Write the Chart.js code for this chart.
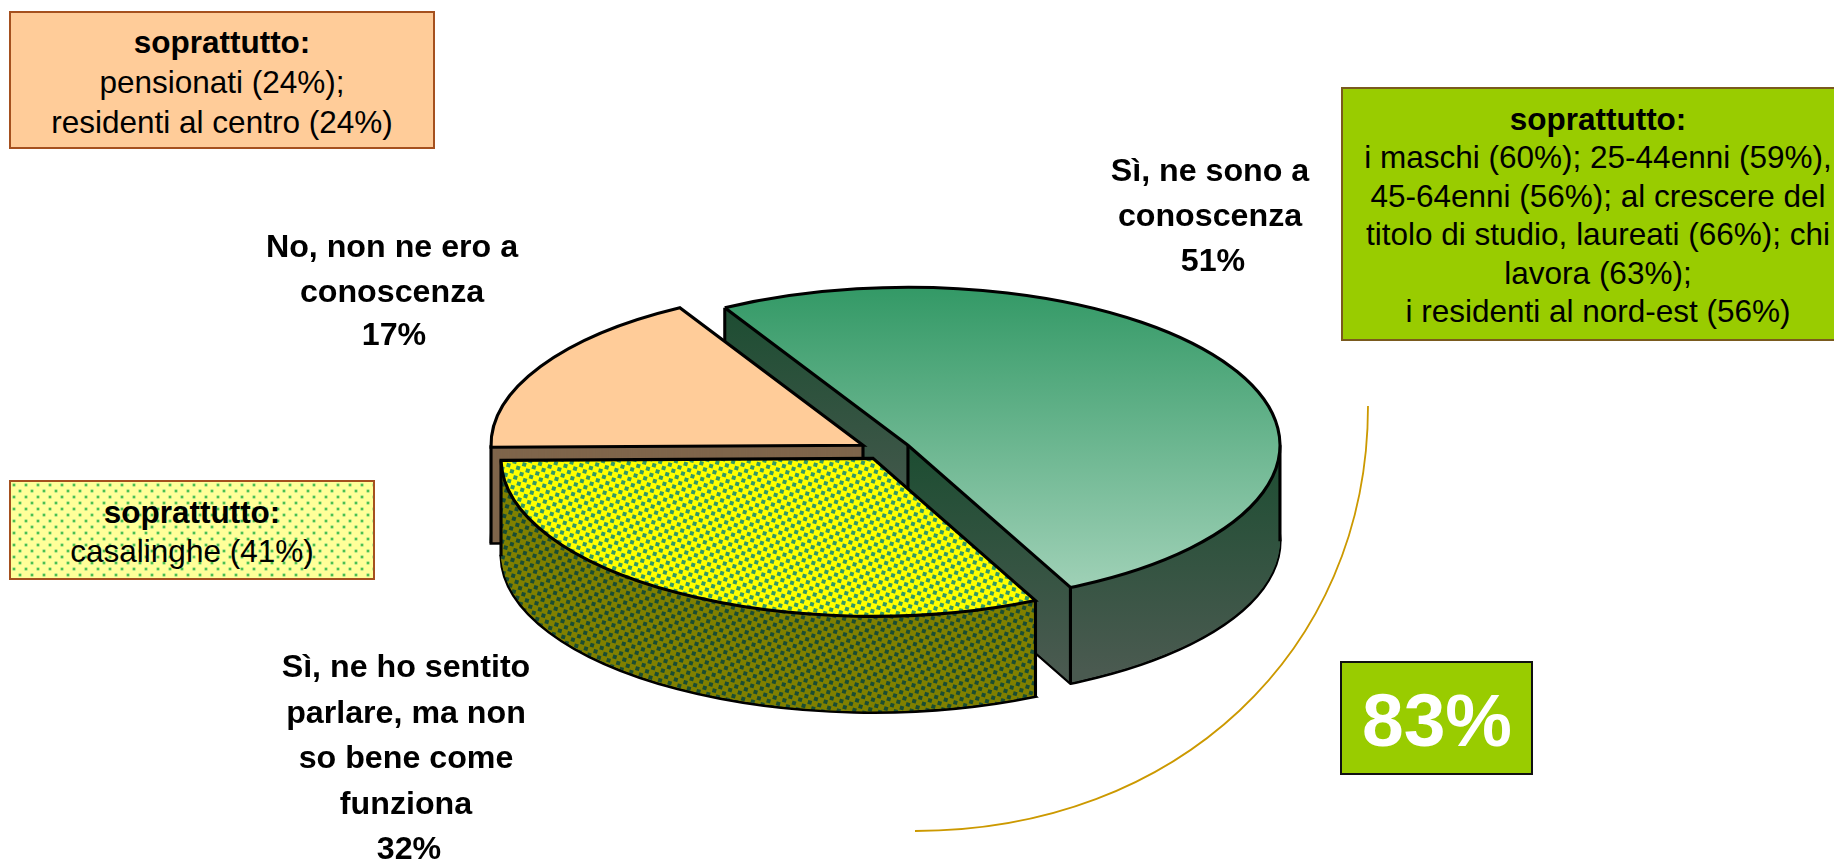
<!DOCTYPE html>
<html lang="it">
<head>
<meta charset="utf-8">
<title>Conoscenza</title>
<script src="https://cdn.jsdelivr.net/npm/chart.js@4"></script>
<style>
html,body{margin:0;padding:0;background:#fff;width:1834px;height:859px;overflow:hidden}
#wrap{position:relative;width:1834px;height:859px;overflow:hidden;font-family:"Liberation Sans",Arial,sans-serif;color:#000}
canvas{position:absolute;left:0;top:0}
.box{position:absolute;box-sizing:border-box;border:2px solid #A5501E}
.ln{position:absolute;white-space:nowrap;transform:translate(-50%,-50%);line-height:1}
.b{font-weight:700}
</style>
</head>
<body>
<div id="wrap"><canvas id="c" width="1834" height="859"></canvas></div>
<script>
// ---------- data ----------
const categories = ["Sì, ne sono a conoscenza", "Sì, ne ho sentito parlare, ma non so bene come funziona", "No, non ne ero a conoscenza"];
const values = [51, 32, 17];
const sliceColors = ["#66B28C", "#FFFF00", "#FFCC99"];
const explode = [26.5, 21.9, 24.8];
const drawOrder = [0, 2, 1];
const labelLines = [
  ["Sì, ne sono a", "conoscenza"],
  ["Sì, ne ho sentito", "parlare, ma non", "so bene come", "funziona"],
  ["No, non ne ero a", "conoscenza"]
];
const boxHead = "soprattutto:";
const noteGreen = ["i maschi (60%); 25-44enni (59%),", "45-64enni (56%); al crescere del", "titolo di studio, laureati (66%); chi", "lavora (63%);", "i residenti al nord-est (56%)"];
const notePeach = ["pensionati (24%);", "residenti al centro (24%)"];
const noteYellow = ["casalinghe (41%)"];
const totalLabel = "83%";

// ---------- text ----------
const wrap = document.getElementById('wrap');
function box(x, y, w, h, css){
  const d = document.createElement('div'); d.className = 'box';
  d.style.cssText = `left:${x}px;top:${y}px;width:${w}px;height:${h}px;${css||''}`;
  wrap.appendChild(d);
}
function line(txt, x, y, size, bold, color){
  const d = document.createElement('div'); d.className = 'ln' + (bold ? ' b' : '');
  d.textContent = txt;
  d.style.cssText = `left:${x}px;top:${y}px;font-size:${size}px;${color ? 'color:' + color : ''}`;
  wrap.appendChild(d);
}
function stack(lines, x, y0, step, size, bold){
  lines.forEach((t, i) => line(t, x, y0 + i * step, size, bold));
}
const NOTE = 31.5, LABEL = 32.2;
box(9, 11, 426, 138, 'background:#FFCC99');
line(boxHead, 222, 43, NOTE, true); stack(notePeach, 222, 83, 39.5, NOTE, false);

box(1341, 87, 520, 254, 'background:#99CC00;border-color:#7A5A1E');
line(boxHead, 1598, 120, NOTE, true); stack(noteGreen, 1598, 158, 38.5, NOTE, false);

const halo = 'radial-gradient(circle at 3px 3px,#4CC04C 0.8px,#BDE88C 1.6px,transparent 2.5px)';
box(9, 480, 366, 100, `background-color:#FFFF99;background-image:${halo},${halo};background-size:12px 12px;background-position:0 0,6px 6px`);
line(boxHead, 192, 513, NOTE, true); stack(noteYellow, 192, 552, 39, NOTE, false);

stack(labelLines[0], 1210, 170, 45, LABEL, true);
line(values[0] + '%', 1213, 260, LABEL, true);
stack(labelLines[2], 392, 246, 44.5, LABEL, true);
line(values[2] + '%', 394, 334, LABEL, true);
stack(labelLines[1], 406, 666, 45.5, LABEL, true);
line(values[1] + '%', 409, 848, LABEL, true);

box(1340, 661, 193, 114, 'background:#99CC00;border:2.5px solid #111');
line(totalLabel, 1437, 720, 75, true, '#fff');

// ---------- 3D pie plugin ----------
const SQUASH = 158 / 372, DEPTH = 96, PX = 884.5, PY = 450.5, W = 1834, H = 859;

function dotted(bg, dot){
  const t = document.createElement('canvas'); t.width = t.height = 10;
  const g = t.getContext('2d');
  g.fillStyle = bg; g.fillRect(0, 0, 10, 10);
  g.fillStyle = dot; g.fillRect(0, 0, 4, 4); g.fillRect(5, 5, 4, 4);
  const p = g.createPattern(t, 'repeat');
  p.setTransform(new DOMMatrix().rotate(16));
  return p;
}
function vGrad(ctx, y0, c0, y1, c1){
  const g = ctx.createLinearGradient(0, y0, 0, y1);
  g.addColorStop(0, c0); g.addColorStop(1, c1);
  return g;
}
function apex(arc, i){
  const mid = (arc.startAngle + arc.endAngle) / 2;
  return {x: PX + Math.cos(mid) * explode[i], y: PY + Math.sin(mid) * explode[i] * SQUASH};
}
function tracePath(ctx, arc, i, layer){
  const a = apex(arc, i), o = arc.options;
  ctx.save();
  ctx.translate(a.x, a.y + layer);
  ctx.scale(1, SQUASH);
  ctx.translate(-arc.x, -arc.y);
  arc.options = Object.assign({}, o, {backgroundColor: 'rgba(0,0,0,0)', borderWidth: 0});
  arc.draw(ctx);           // leaves the slice outline as the current path
  arc.options = o;
  ctx.restore();
}
const pie3d = {
  id: 'pie3d',
  beforeDatasetsDraw(chart){
    const ctx = chart.ctx, arcs = chart.getDatasetMeta(0).data;
    const topStyle = [vGrad(ctx, 287, '#339966', 590, '#A0D1B7'), dotted('#FFFF00', '#339966'), '#FFCC99'];
    const wallPasses = [
      [[0, 'apex', vGrad(ctx, 308, '#1D4D32', 530, '#4A5A50')], ['apex', W, vGrad(ctx, 450, '#1D4D32', 670, '#4A5A50')]],
      [[0, W, dotted('#808000', '#1A4D33')]],
      [[0, W, '#7F654B']]
    ];
    ctx.save();
    ctx.lineJoin = 'miter'; ctx.lineCap = 'butt';
    ctx.strokeStyle = '#000'; ctx.lineWidth = 3.1;
    drawOrder.forEach(i => {
      const arc = arcs[i], a = apex(arc, i);
      // lower outline
      tracePath(ctx, arc, i, DEPTH); ctx.stroke();
      // wall body
      wallPasses[i].forEach(([x0, x1, style]) => {
        const l = x0 === 'apex' ? a.x : x0, r = x1 === 'apex' ? a.x : x1;
        ctx.save();
        ctx.beginPath(); ctx.rect(l, 0, r - l, H); ctx.clip();
        ctx.fillStyle = style;
        for (let k = DEPTH - 1; k >= 1; k--){ tracePath(ctx, arc, i, k); ctx.fill(); }
        ctx.restore();
      });
      // vertical corners and silhouette edges
      ctx.beginPath();
      const R = arc.outerRadius;
      const corners = [[a.x, a.y],
        [a.x + R * Math.cos(arc.startAngle), a.y + R * SQUASH * Math.sin(arc.startAngle)],
        [a.x + R * Math.cos(arc.endAngle), a.y + R * SQUASH * Math.sin(arc.endAngle)]];
      for (let n = -4; n <= 4; n++){
        const ang = n * Math.PI;
        if (ang > arc.startAngle && ang < arc.endAngle) corners.push([a.x + R * Math.cos(ang), a.y]);
      }
      corners.forEach(p => { ctx.moveTo(p[0], p[1]); ctx.lineTo(p[0], p[1] + DEPTH); });
      ctx.stroke();
      // top face
      tracePath(ctx, arc, i, 0);
      ctx.fillStyle = topStyle[i]; ctx.fill(); ctx.stroke();
    });
    // leader arc round the two "yes" slices
    ctx.beginPath();
    ctx.moveTo(1368, 406);
    ctx.bezierCurveTo(1368, 652, 1176, 831, 915, 831);
    ctx.strokeStyle = '#CC9900'; ctx.lineWidth = 1.8; ctx.stroke();
    ctx.restore();
    return false;
  }
};

new Chart(document.getElementById('c'), {
  type: 'pie',
  data: {
    labels: categories,
    datasets: [{data: values, backgroundColor: sliceColors, borderWidth: 0, radius: 372}]
  },
  options: {
    responsive: false,
    animation: false,
    rotation: -29.5,
    layout: {padding: 0},
    events: [],
    plugins: {legend: {display: false}, tooltip: {enabled: false}, title: {display: false}}
  },
  plugins: [pie3d]
});
</script>
</body>
</html>
